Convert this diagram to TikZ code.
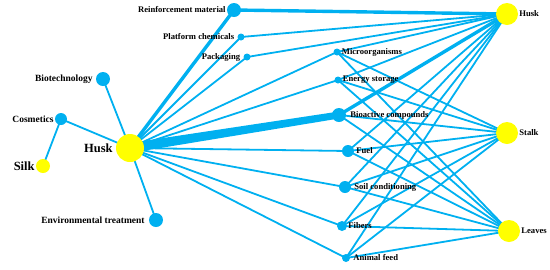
\documentclass[tikz,border=0pt]{standalone}
\usepackage{fontspec}
\setmainfont{Liberation Serif}
\usepackage{xcolor}
\usetikzlibrary{backgrounds}
\definecolor{netblue}{RGB}{0,176,240}
\definecolor{netyellow}{RGB}{255,255,0}

\begin{document}
\begin{tikzpicture}[
    x=1pt, y=-1pt,
    hub/.style={circle, fill=netyellow, inner sep=0pt, minimum size=#1},
    app/.style={circle, fill=netblue, inner sep=0pt, minimum size=#1},
    lab/.style={font=\bfseries\fontsize{8.6}{9}\selectfont, inner sep=1pt},
    biglab/.style={font=\bfseries\fontsize{12.5}{13}\selectfont, inner sep=1pt},
    midlab/.style={font=\bfseries\fontsize{9.5}{10}\selectfont, inner sep=1pt},
    link/.style={draw=netblue, line width=1.8pt},
    thicklink/.style={draw=netblue, line width=3.4pt}
]
\useasboundingbox (0,0) rectangle (550,269);

% sources
\node[hub=28pt, label={[biglab, xshift=-2pt]left:Husk}] (husk) at (130,148) {};
\node[hub=14pt, label={[biglab]left:Silk}] (silk) at (43,166) {};
\node[hub=22pt, label={[lab]right:Husk}] (huskr) at (507,14) {};
\node[hub=22pt, label={[lab]right:Stalk}] (stalk) at (507,133) {};
\node[hub=22pt, label={[lab]right:Leaves}] (leaves) at (509,231) {};

% left applications
\node[app=12pt, label={[midlab]left:Cosmetics}] (cosm) at (61,119) {};
\node[app=14pt, label={[midlab, xshift=-2pt]left:Biotechnology}] (biotech) at (103,79) {};
\node[app=14pt, label={[midlab, xshift=-3pt]left:Environmental treatment}] (envir) at (156,220) {};

% middle applications
\node[app=14pt, label={[lab]left:Reinforcement material}] (reinf) at (234,10) {};
\node[app=7pt, label={[lab, xshift=-2pt]left:Platform chemicals}] (platf) at (241,37) {};
\node[app=7pt, label={[lab, xshift=-2pt]left:Packaging}] (pack) at (247,57) {};
\node[app=7pt, label={[lab]right:Microorganisms}] (micro) at (337,52) {};
\node[app=7pt, label={[lab]right:Energy storage}] (energy) at (338,80) {};
\node[app=14pt, label={[lab, xshift=3pt]right:Bioactive compounds}] (bioact) at (339,115) {};
\node[app=12pt, label={[lab, xshift=1pt]right:Fuel}] (fuel) at (348,151) {};
\node[app=12pt, label={[lab, xshift=2pt]right:Soil conditioning}] (soil) at (345,187) {};
\node[app=10pt, label={[lab]right:Fibers}] (fibers) at (342,226) {};
\node[app=8pt, label={[lab, xshift=2pt]right:Animal feed}] (feed) at (346,258) {};

\begin{pgfonlayer}{background}
\draw[link] (silk.center) -- (cosm.center) -- (husk.center);
\draw[link] (husk.center) -- (biotech.center);
\draw[link] (husk.center) -- (envir.center);
\draw[thicklink] (husk.center) -- (reinf.center) -- (huskr.center);
% tapered strong link
\fill[netblue] ([yshift=-5pt]husk.center) -- ([yshift=-3.5pt]bioact.center)
  -- ([yshift=3.5pt]bioact.center) -- ([yshift=5pt]husk.center) -- cycle;
\draw[thicklink] (bioact.center) -- (huskr.center);
\foreach \a in {platf,pack,micro,energy,fuel,soil,fibers,feed}
  \draw[link] (husk.center) -- (\a.center);
\foreach \a in {platf,pack,micro,energy,fuel,soil,fibers,feed}
  \draw[link] (\a.center) -- (huskr.center);
\foreach \a in {micro,energy,bioact,fuel,soil,fibers,feed} {
  \draw[link] (\a.center) -- (stalk.center);
  \draw[link] (\a.center) -- (leaves.center);
}
\end{pgfonlayer}
\end{tikzpicture}
\end{document}
